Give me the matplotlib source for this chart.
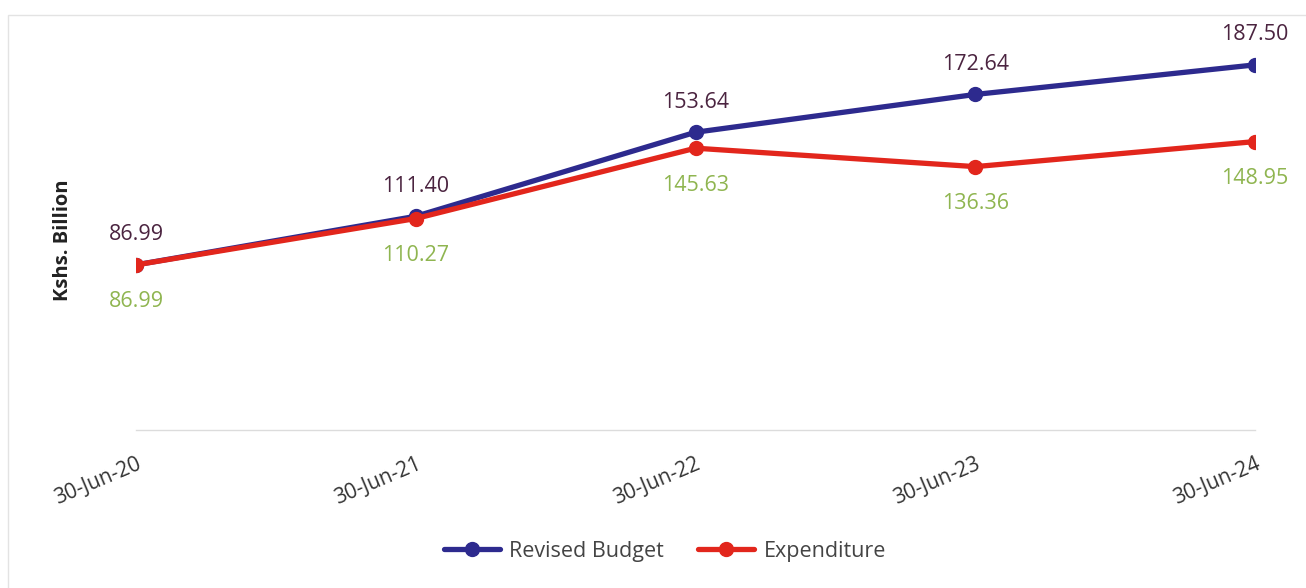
import matplotlib.pyplot as plt
from matplotlib.patches import Rectangle

# data
dates = ["30-Jun-20", "30-Jun-21", "30-Jun-22", "30-Jun-23", "30-Jun-24"]
revised_budget = [86.99, 111.40, 153.64, 172.64, 187.50]
expenditure = [86.99, 110.27, 145.63, 136.36, 148.95]

plt.rcParams['font.family'] = ['Open Sans', 'DejaVu Sans']

budget_color = "#2d2a8e"
exp_color = "#e2261c"
budget_lbl_color = "#4b2440"
exp_lbl_color = "#8fb550"

fig = plt.figure(figsize=(13.06, 5.88), dpi=100)
ax = fig.add_axes([136 / 1306, 1 - 430 / 588, (1255 - 136) / 1306, (430 - 40) / 588])

# light frame round the chart
fig.patches.append(Rectangle((8 / 1306, -0.02), 1.0, 1 - 15 / 588 + 0.02,
                             transform=fig.transFigure, fill=False,
                             edgecolor="#e3e3e3", linewidth=1.0))

x = list(range(len(dates)))
ax.plot(x, revised_budget, color=budget_color, lw=3.8, marker="o", ms=10,
        label="Revised Budget", solid_capstyle="round", zorder=3)
ax.plot(x, expenditure, color=exp_color, lw=3.8, marker="o", ms=10,
        label="Expenditure", solid_capstyle="round", zorder=4)

for i, v in enumerate(revised_budget):
    ax.annotate(f"{v:.2f}", (i, v), xytext=(0, 14), textcoords="offset points",
                ha="center", va="bottom", fontsize=15.5, color=budget_lbl_color)
for i, v in enumerate(expenditure):
    ax.annotate(f"{v:.2f}", (i, v), xytext=(0, -19), textcoords="offset points",
                ha="center", va="top", fontsize=15.5, color=exp_lbl_color)

ax.set_xlim(0, 4)
ax.set_ylim(4, 200)
ax.set_xticks(x)
ax.set_xticklabels(dates, rotation=23, ha="right", rotation_mode="anchor",
                   fontsize=15, color="#333333")
ax.tick_params(axis="x", length=0, pad=17)
ax.set_yticks([])

for s in ["top", "right", "left"]:
    ax.spines[s].set_visible(False)
ax.spines["bottom"].set_color("#dcdcdc")
ax.spines["bottom"].set_linewidth(1.0)

fig.text(63 / 1306, 1 - 240 / 588, "Kshs. Billion", rotation=90, ha="center",
         va="center", fontsize=14.5, fontweight="bold", color="#222222")

leg = fig.legend(loc="center", bbox_to_anchor=(665 / 1306, 1 - 551 / 588), ncol=2,
                 frameon=False, fontsize=15.5, handlelength=2.6, columnspacing=1.6,
                 handletextpad=0.45)
for t in leg.get_texts():
    t.set_color("#444444")

fig.savefig("out.png", dpi=100)
